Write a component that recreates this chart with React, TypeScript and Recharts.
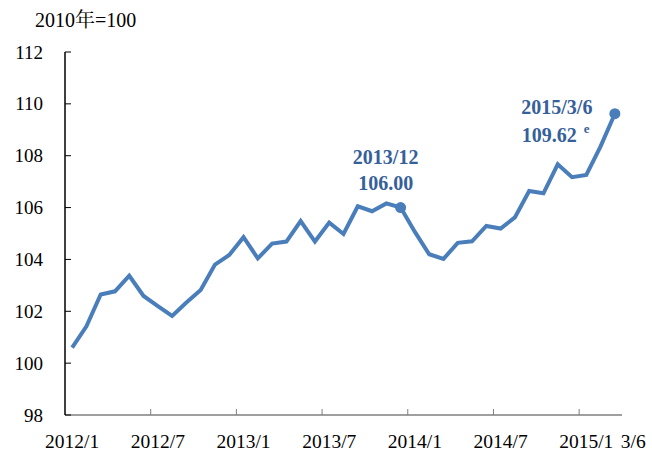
import { LineChart, Line, XAxis, YAxis } from "recharts";

// 2012/1 ~ 2015/2 月資料，最後一點為 2015/3/6
const months = [
  "2012/1", "2012/2", "2012/3", "2012/4", "2012/5", "2012/6",
  "2012/7", "2012/8", "2012/9", "2012/10", "2012/11", "2012/12",
  "2013/1", "2013/2", "2013/3", "2013/4", "2013/5", "2013/6",
  "2013/7", "2013/8", "2013/9", "2013/10", "2013/11", "2013/12",
  "2014/1", "2014/2", "2014/3", "2014/4", "2014/5", "2014/6",
  "2014/7", "2014/8", "2014/9", "2014/10", "2014/11", "2014/12",
  "2015/1", "2015/2", "3/6",
];

const index = [
  100.6, 101.42, 102.65, 102.77, 103.37, 102.59,
  102.2, 101.82, 102.34, 102.82, 103.8, 104.17,
  104.86, 104.04, 104.61, 104.69, 105.48, 104.69,
  105.42, 104.98, 106.05, 105.86, 106.16, 106.0,
  105.06, 104.2, 104.02, 104.64, 104.7, 105.29,
  105.19, 105.62, 106.64, 106.55, 107.67, 107.17,
  107.26, 108.36, 109.62,
];

const xTicks = ["2012/1", "2012/7", "2013/1", "2013/7", "2014/1", "2014/7", "2015/1", "3/6"];
const yTicks = [98, 100, 102, 104, 106, 108, 110, 112];

// 標註點
const notes = [
  { idx: 23, date: "2013/12", sup: "" },
  { idx: 38, date: "2015/3/6", sup: "e" },
];

const W = 652;
const H = 452;
const PLOT_LEFT = 65;
const PLOT_RIGHT = 622;
const BAND = (PLOT_RIGHT - PLOT_LEFT) / months.length;
const LINE_COLOR = "#4a7ebb";
const NOTE_COLOR = "#36609a";
const FONT = "'Liberation Serif', 'Times New Roman', 'Noto Serif CJK SC', 'Noto Sans CJK SC', serif";

const data = months.map((m, i) => ({ month: m, value: index[i] }));

function XTick(props: any) {
  const { x, y, payload } = props;
  const last = payload.value === "3/6";
  const edge = x - BAND / 2;
  return (
    <g>
      {edge > PLOT_LEFT + 1 && !last && (
        <line x1={edge} x2={edge} y1={y} y2={y - 6} stroke="#7f7f7f" strokeWidth={1} />
      )}
      <text
        x={last ? x + 6 : x}
        y={y + 33}
        textAnchor={last ? "start" : "middle"}
        fontSize={19.5}
        fontFamily={FONT}
        fill="#000"
      >
        {payload.value}
      </text>
    </g>
  );
}

function YTick(props: any) {
  const { x, y, payload } = props;
  return (
    <g>
      <line x1={x} x2={x + 6} y1={y} y2={y} stroke="#000" strokeWidth={1} />
      <text x={x - 22} y={y + 6.5} textAnchor="end" fontSize={19} fontFamily={FONT} fill="#000">
        {payload.value}
      </text>
    </g>
  );
}

function renderDot(props: any) {
  const { cx, cy, index: i } = props;
  if (!notes.some((n) => n.idx === i)) return <g key={`d${i}`} />;
  return <circle key={`d${i}`} cx={cx} cy={cy} r={5.5} fill={LINE_COLOR} />;
}

function renderLabel(props: any) {
  const { x, y, index: i, value } = props;
  const note = notes.find((n) => n.idx === i);
  if (!note) return <g key={`l${i}`} />;
  const style = { fontSize: 20, fontWeight: 700, fontFamily: FONT, fill: NOTE_COLOR };
  if (!note.sup) {
    return (
      <g key={`l${i}`}>
        <text x={x - 15} y={y - 44} textAnchor="middle" {...style}>{note.date}</text>
        <text x={x - 15} y={y - 18} textAnchor="middle" {...style}>{Number(value).toFixed(2)}</text>
      </g>
    );
  }
  return (
    <g key={`l${i}`}>
      <text x={x - 58} y={y} textAnchor="middle" {...style}>{note.date}</text>
      <text x={x - 93} y={y + 28} textAnchor="start" {...style}>
        {Number(value).toFixed(2)}
        <tspan fontSize={13} dx={7} dy={-9}>{note.sup}</tspan>
      </text>
    </g>
  );
}

export default function App() {
  return (
    <div style={{ position: "absolute", left: 0, top: 0, width: W, height: H, background: "#fff" }}>
      <div
        style={{
          position: "absolute",
          left: 35,
          top: 9,
          fontSize: 20,
          fontFamily: FONT,
          color: "#000",
          lineHeight: "22px",
        }}
      >
        2010年=100
      </div>
      <LineChart width={W} height={H} data={data} margin={{ top: 52, right: 30, left: 0, bottom: 0 }}>
        <XAxis
          dataKey="month"
          scale="band"
          ticks={xTicks}
          interval={0}
          height={37}
          tickSize={0}
          tickMargin={0}
          tickLine={false}
          tick={XTick}
          axisLine={{ stroke: "#7f7f7f", strokeWidth: 1.5 }}
        />
        <XAxis
          xAxisId="top"
          dataKey="month"
          orientation="top"
          height={0}
          tick={false}
          tickLine={false}
          axisLine={{ stroke: "#222", strokeWidth: 1.2 }}
        />
        <YAxis
          domain={[98, 112]}
          ticks={yTicks}
          width={65}
          tickSize={0}
          tickMargin={0}
          tickLine={false}
          tick={YTick}
          axisLine={{ stroke: "#000", strokeWidth: 1.5 }}
        />
        <YAxis
          yAxisId="right"
          orientation="right"
          domain={[98, 112]}
          width={0}
          tick={false}
          tickLine={false}
          axisLine={{ stroke: "#000", strokeWidth: 1.5 }}
        />
        <Line
          type="linear"
          dataKey="value"
          stroke={LINE_COLOR}
          strokeWidth={4}
          dot={renderDot}
          activeDot={false}
          label={renderLabel}
          isAnimationActive={false}
        />
      </LineChart>
    </div>
  );
}
